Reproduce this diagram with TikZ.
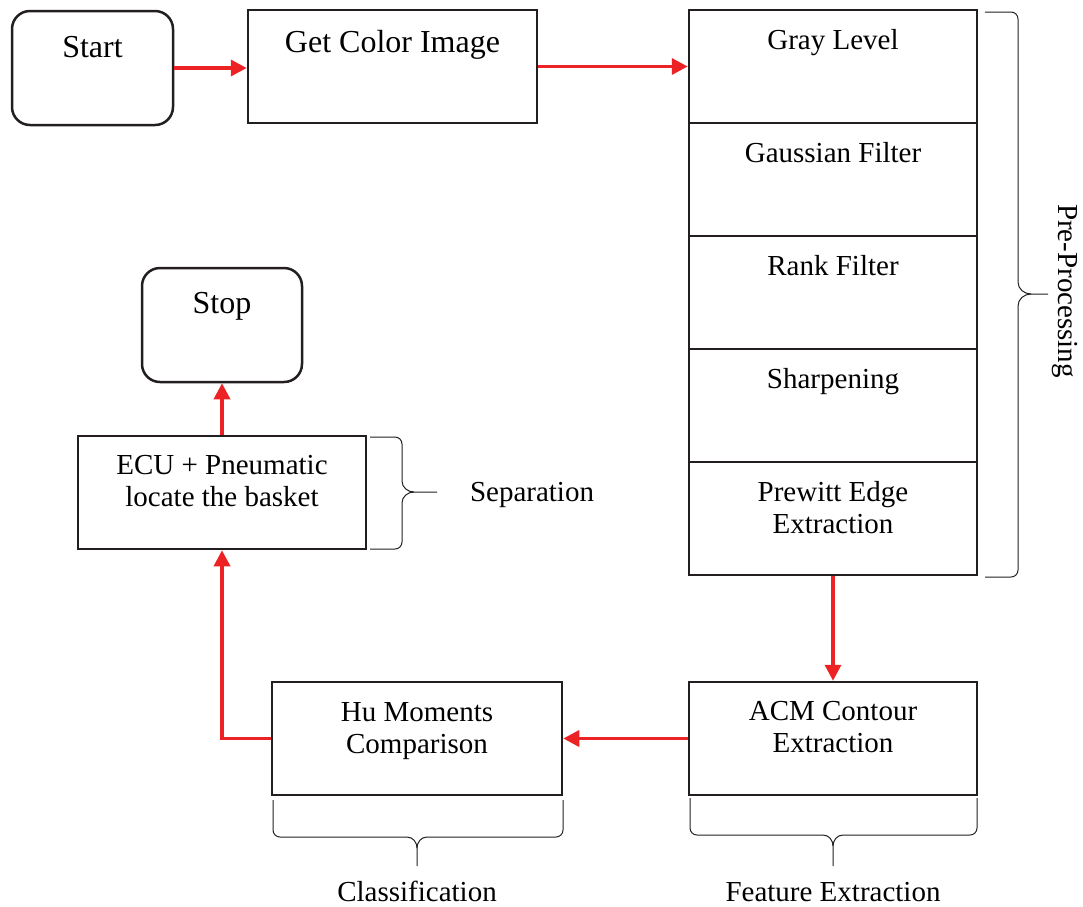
\documentclass[tikz,border=0pt]{standalone}
\usepackage{fontspec}
\setmainfont{Liberation Serif}
\usetikzlibrary{arrows.meta}
\definecolor{stroke}{RGB}{35,31,32}
\definecolor{flow}{RGB}{237,34,36}
\begin{document}
\begin{tikzpicture}[x=1pt,y=-1pt,
  box/.style={draw=stroke,line width=2.5pt,inner sep=0pt,minimum width=288pt,minimum height=113pt},
  rbox/.style={box,rounded corners=18pt,minimum width=160pt,minimum height=114pt},
  big/.style={font=\fontsize{32}{36}\selectfont,inner sep=0pt},
  lbl/.style={font=\fontsize{29}{32}\selectfont,inner sep=0pt,align=center},
  flowarrow/.style={draw=flow,line width=3.5pt,-{Triangle[length=16pt,width=16pt]}},
  bracepath/.style={draw=stroke,line width=1pt}]
\useasboundingbox (0,0) rectangle (1083,906);
% boxes
\node[rbox,minimum width=161pt] (start) at (92.5,68) {};
\node[box,minimum width=289pt] (get) at (392.5,66.5) {};
\node[box] (gray) at (833,66.5) {};
\node[box] (gauss) at (833,179.5) {};
\node[box] (rank) at (833,292.5) {};
\node[box] (sharp) at (833,405.5) {};
\node[box] (prewitt) at (833,518.5) {};
\node[rbox] (stop) at (222,325) {};
\node[box] (ecu) at (222,492.5) {};
\node[box,minimum width=290pt] (hu) at (417,738.5) {};
\node[box] (acm) at (833,738.5) {};
% texts
\node[big,anchor=base] (startT) at (92.5,57) {Start};
\node[big,anchor=base] (getT) at (392.5,52) {Get Color Image};
\node[lbl,anchor=base] (grayT) at (833,49) {Gray Level};
\node[lbl,anchor=base] (gaussT) at (833,162) {Gaussian Filter};
\node[lbl,anchor=base] (rankT) at (833,275) {Rank Filter};
\node[lbl,anchor=base] (sharpT) at (833,388) {Sharpening};
\node[lbl,anchor=north] (prewittT) at (833,481) {Prewitt Edge\\Extraction};
\node[big,anchor=base] (stopT) at (222,313) {Stop};
\node[lbl,anchor=north] (ecuT) at (222,455) {ECU + Pneumatic\\locate the basket};
\node[lbl,anchor=north] (huT) at (417,702) {Hu Moments\\Comparison};
\node[lbl,anchor=north] (acmT) at (833,701) {ACM Contour\\Extraction};
\node[lbl,rotate=-90] (preT) at (1065,291) {Pre-Processing};
\node[lbl,anchor=base] (sepT) at (532,501) {Separation};
\node[lbl,anchor=base] (clsT) at (417,901) {Classification};
\node[lbl,anchor=base] (featT) at (833,901) {Feature Extraction};
% arrows
\draw[flowarrow] (start.east) -- (start.east -| get.west);
\draw[flowarrow] (get.east) -- (get.east -| gray.west);
\draw[flowarrow] (prewitt.south) -- (acm.north);
\draw[flowarrow] (acm.west) -- (hu.east);
\draw[flowarrow] (hu.west) -| (ecu.south);
\draw[flowarrow] (ecu.north) -- (stop.south);
% braces
\draw[bracepath] (985,12) -- (1011,12) to[out=0,in=90] (1018,19) -- (1018,282)
  to[out=-90,in=180] (1031,294) -- (1048,294);
\draw[bracepath] (985,577) -- (1011,577) to[out=0,in=-90] (1018,570) -- (1018,306)
  to[out=90,in=180] (1031,294);
\draw[bracepath] (370,437) -- (395,437) to[out=0,in=90] (402,444) -- (402,481)
  to[out=-90,in=180] (414,492) -- (437,492);
\draw[bracepath] (370,549) -- (395,549) to[out=0,in=-90] (402,542) -- (402,503)
  to[out=90,in=180] (414,492);
\draw[bracepath] (273,800) -- (273,830) to[out=-90,in=180] (280,837) -- (407,837)
  to[out=0,in=90] (417,848) -- (417,866);
\draw[bracepath] (563,800) -- (563,830) to[out=-90,in=0] (556,837) -- (427,837)
  to[out=180,in=90] (417,848);
\draw[bracepath] (690,798) -- (690,828) to[out=-90,in=180] (697,835) -- (823,835)
  to[out=0,in=90] (833,846) -- (833,866);
\draw[bracepath] (977,798) -- (977,828) to[out=-90,in=0] (970,835) -- (843,835)
  to[out=180,in=90] (833,846);
\end{tikzpicture}
\end{document}
